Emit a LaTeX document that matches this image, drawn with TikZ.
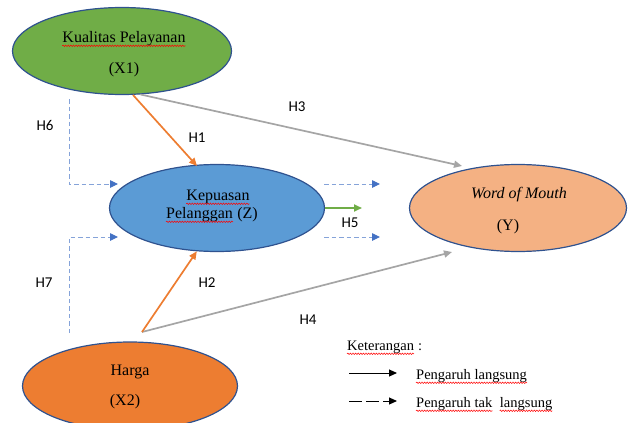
\documentclass[tikz,border=0pt]{standalone}
\usepackage{fontspec}
\setmainfont{Liberation Serif}
\newfontfamily\labfont{Carlito}
\usetikzlibrary{shapes.geometric,arrows.meta,decorations.pathmorphing}
\definecolor{cgreen}{HTML}{70AD47}
\definecolor{cblue}{HTML}{5B9BD5}
\definecolor{clorange}{HTML}{F4B183}
\definecolor{corange}{HTML}{ED7D31}
\definecolor{cgrey}{HTML}{A5A5A5}
\definecolor{cdash}{HTML}{4472C4}
\definecolor{cborder}{HTML}{2F528F}
\begin{document}
\begin{tikzpicture}[x=1pt,y=-1pt,
  varbox/.style={ellipse,draw=cborder,line width=1.2pt,inner sep=0pt},
  vtext/.style={anchor=base,inner sep=0pt,font=\fontsize{16}{18}\selectfont},
  vtextw/.style={vtext,anchor=base west},
  hlab/.style={anchor=base,inner sep=0pt,font=\labfont\fontsize{15}{17}\selectfont},
  legtext/.style={anchor=base west,inner sep=0pt,font=\fontsize{14.5}{17}\selectfont},
  squig/.style={draw=red,line width=0.5pt,decorate,decoration={snake,amplitude=0.75pt,segment length=2.6pt}},
  tip/.style={-{Triangle[length=8pt,width=7pt]}},
  orangearrow/.style={tip,draw=corange,line width=1.7pt},
  greyarrow/.style={tip,draw=cgrey,line width=1.7pt},
  greenarrow/.style={tip,draw=cgreen,line width=1.7pt},
  dasharrow/.style={-{Triangle[length=8pt,width=7.5pt,color=cdash]},draw=cdash!65,line width=0.9pt,dash pattern=on 4.5pt off 3pt},
  legsolid/.style={-{Triangle[length=8pt,width=7pt]},draw=black,line width=1pt},
  legdash/.style={-{Triangle[length=8pt,width=7pt]},draw=black,line width=1pt,dash pattern=on 13pt off 4pt}]
\useasboundingbox (0,0) rectangle (632,423);
\clip (0,0) rectangle (632,423);

% variables
\node[varbox,fill=cgreen,minimum width=219pt,minimum height=87pt] (x1) at (122,51) {};
\node[varbox,fill=cblue,minimum width=215pt,minimum height=87pt] (z) at (217,208) {};
\node[varbox,fill=clorange,minimum width=217pt,minimum height=87pt] (y) at (518,208) {};
\node[varbox,fill=corange,minimum width=215pt,minimum height=88pt] (x2) at (130,386) {};

\node[vtext] (x1a) at (124,42) {Kualitas Pelayanan};
\node[vtext] (x1b) at (124,73) {(X1)};
\node[vtext] (za) at (218,200) {Kepuasan};
\node[vtextw] (zb1) at (166,218) {Pelanggan};
\node[vtextw,xshift=4pt] (zb2) at (zb1.base east) {(Z)};
\node[vtext] (ya) at (519,198) {\textit{Word of Mouth}};
\node[vtext] (yb) at (508,230) {(Y)};
\node[vtext] (x2a) at (130,375) {Harga};
\node[vtext] (x2b) at (125,405) {(X2)};

% free ends
\coordinate (h1e) at (197,166);
\coordinate (h3e) at (462,166);
\coordinate (x2s) at (142,332);
\coordinate (h4e) at (452,252);
\coordinate (h5e) at (362,208);
\coordinate (h6s) at (69,99);
\coordinate (h6e) at (118,184);
\coordinate (h7s) at (69,333);
\coordinate (h7e) at (118,237);
\coordinate (d1s) at (324,184);
\coordinate (d1e) at (380,184);
\coordinate (d2s) at (324,237);
\coordinate (d2e) at (380,237);

% connectors
\draw[greyarrow] (x1.-67) -- (h3e);
\draw[orangearrow] (x1.-76) -- (h1e);
\draw[greyarrow] (x2s) -- (h4e);
\draw[orangearrow] (x2s) -- (z.-115);
\draw[greenarrow] (z.east) -- (h5e);
\draw[dasharrow] (h6s) |- (h6e);
\draw[dasharrow] (h7s) |- (h7e);
\draw[dasharrow] (d1s) -- (d1e);
\draw[dasharrow] (d2s) -- (d2e);

% labels
\node[hlab] (lh6) at (45,130) {H6};
\node[hlab] (lh1) at (197,142) {H1};
\node[hlab] (lh3) at (297,111) {H3};
\node[hlab] (lh7) at (44,287) {H7};
\node[hlab] (lh2) at (207,287) {H2};
\node[hlab] (lh4) at (308,324) {H4};
\node[hlab] (lh5) at (350,227) {H5};

% legend
\node[legtext] (ket) at (347,350) {Keterangan};
\node[legtext,xshift=3.6pt] (ketc) at (ket.base east) {:};
\coordinate (l1s) at (349,373);
\coordinate (l1e) at (397,373);
\coordinate (l2s) at (349,401);
\coordinate (l2e) at (397,401);
\draw[legsolid] (l1s) -- (l1e);
\draw[legdash] (l2s) -- (l2e);
\node[legtext] (leg1) at (416,379) {Pengaruh langsung};
\node[legtext] (leg2a) at (416,407) {Pengaruh tak};
\node[legtext,xshift=7.2pt] (leg2b) at (leg2a.base east) {langsung};

% spelling underlines
\foreach \n in {x1a,za,zb1,ket,leg1,leg2a,leg2b}
  \draw[squig] ([yshift=-3.8pt]\n.base west) -- ([yshift=-3.8pt]\n.base east);
\end{tikzpicture}
\end{document}
